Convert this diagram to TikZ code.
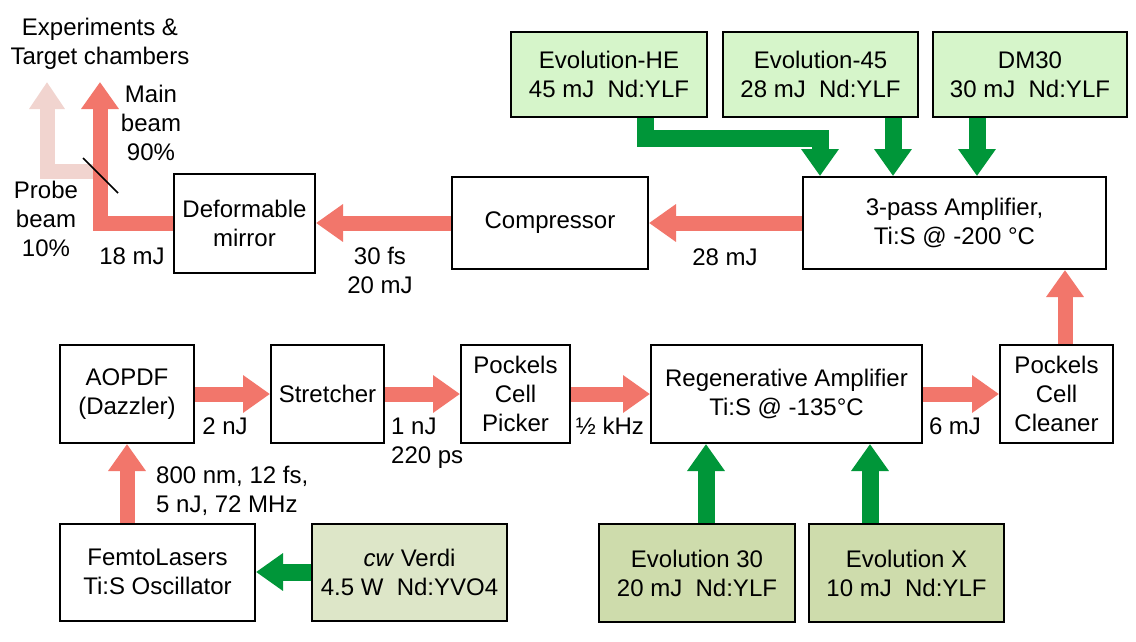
\documentclass[tikz,border=0pt]{standalone}
\usepackage{fontspec}
\setmainfont{Liberation Sans}
\usetikzlibrary{arrows.meta}
\definecolor{beamred}{RGB}{242,118,107}
\definecolor{probepink}{RGB}{241,212,207}
\definecolor{pumpgreen}{RGB}{0,150,57}
\definecolor{topgreen}{RGB}{214,245,202}
\definecolor{botgreen}{RGB}{206,220,172}
\definecolor{verdigreen}{RGB}{221,230,200}
\newcommand{\lblfont}{\fontsize{24pt}{29pt}\selectfont}
\begin{document}
\begin{tikzpicture}[x=1pt,y=-1pt,
  box/.style={draw=black, line width=2pt, fill=white, align=center, inner sep=0pt, font=\lblfont},
  lbl/.style={align=center, inner sep=0pt, font=\lblfont},
  rarr/.style={draw=beamred, line width=15pt, line join=miter, -{Triangle[length=27pt,width=36pt]}},
  parr/.style={draw=probepink, line width=15pt, line join=miter, -{Triangle[length=27pt,width=34pt]}},
  garr/.style={draw=pumpgreen, line width=17pt, line join=miter, -{Triangle[length=27pt,width=36pt]}}
]
\fill[white] (0,0) rectangle (1136,641);
\useasboundingbox (0,0) rectangle (1136,641);

% top pump lasers
\node[box, fill=topgreen, minimum width=196pt, minimum height=85pt] (evoHE) at (609,74.5) {Evolution-HE\\45 mJ~~Nd:YLF};
\node[box, fill=topgreen, minimum width=195pt, minimum height=85pt] (evo45) at (820.5,74.5) {Evolution-45\\28 mJ~~Nd:YLF};
\node[box, fill=topgreen, minimum width=194pt, minimum height=85pt] (dm30) at (1030,74.5) {DM30\\30 mJ~~Nd:YLF};

% top row
\node[box, minimum width=303pt, minimum height=92pt] (amp3) at (954.5,223) {3-pass Amplifier,\\Ti:S @ -200 °C};
\node[box, minimum width=196pt, minimum height=92pt] (comp) at (550,223) {Compressor};
\node[box, minimum width=141pt, minimum height=99pt] (deform) at (244.5,223) {Deformable\\mirror};

% middle row
\node[box, minimum width=134pt, minimum height=98pt] (aopdf) at (127,394) {AOPDF\\(Dazzler)};
\node[box, minimum width=113pt, minimum height=98pt] (stretch) at (327.5,394) {Stretcher};
\node[box, minimum width=109pt, minimum height=98pt] (picker) at (515.5,394) {Pockels\\Cell\\Picker};
\node[box, minimum width=271pt, minimum height=98pt] (regen) at (786.5,394) {Regenerative Amplifier\\Ti:S @ -135°C};
\node[box, minimum width=113pt, minimum height=98pt] (cleaner) at (1056.5,394) {Pockels\\Cell\\Cleaner};

% bottom row
\node[box, minimum width=195pt, minimum height=97pt] (femto) at (157.5,572) {FemtoLasers\\Ti:S Oscillator};
\node[box, fill=verdigreen, minimum width=195pt, minimum height=97pt] (verdi) at (409.5,572) {\textit{cw} Verdi\\4.5 W~~Nd:YVO4};
\node[box, fill=botgreen, minimum width=196pt, minimum height=98pt] (evo30) at (697,573) {Evolution 30\\20 mJ~~Nd:YLF};
\node[box, fill=botgreen, minimum width=195pt, minimum height=98pt] (evox) at (906.5,573) {Evolution X\\10 mJ~~Nd:YLF};

% output beams
\coordinate (mainTip) at (100,82);
\coordinate (probeTip) at (47,82);
\coordinate (split) at (100,171);
\coordinate (bsA) at (83,158);
\coordinate (bsB) at (118,193);
\draw[parr] (split) -| (probeTip);
\draw[rarr] (deform.west) -| (mainTip);
\draw[line width=1.5pt] (bsA) -- (bsB);

% red beam path
\draw[rarr] (femto.north -| aopdf.south) -- (aopdf.south);
\draw[rarr] (aopdf.east) -- (stretch.west);
\draw[rarr] (stretch.east) -- (picker.west);
\draw[rarr] (picker.east) -- (regen.west);
\draw[rarr] (regen.east) -- (cleaner.west);
\draw[rarr] (cleaner.north -| 1065,0) -- (amp3.south -| 1065,0);
\draw[rarr] (amp3.west) -- (comp.east);
\draw[rarr] (comp.west) -- (deform.east);

% green pump paths
\draw[garr] ([xshift=36pt]evoHE.south) -- ++(0,20) -| (amp3.north -| 820,0);
\draw[garr] (evo45.south -| 893,0) -- (amp3.north -| 893,0);
\draw[garr] (dm30.south -| 977,0) -- (amp3.north -| 977,0);
\draw[garr] (verdi.west) -- (femto.east);
\draw[garr] (evo30.north -| 706,0) -- (regen.south -| 706,0);
\draw[garr] (evox.north -| 870,0) -- (regen.south -| 870,0);

% labels
\node[lbl] (lexp) at (100,44) {Experiments \&\\Target chambers};
\node[lbl] (lmain) at (151,123) {Main\\beam\\90\%};
\node[lbl] (lprobe) at (46,219) {Probe\\beam\\10\%};
\node[lbl] (l18) at (132,256) {18 mJ};
\node[lbl] (l30) at (380,270) {30 fs\\20 mJ};
\node[lbl] (l28) at (725,257) {28 mJ};
\node[lbl] (l2nJ) at (225,426) {2 nJ};
\node[lbl, align=left, anchor=west] (l1nJ) at (391,443) {1 nJ\\220 ps};
\node[lbl] (lkhz) at (610,426) {½ kHz};
\node[lbl] (l6mJ) at (955,426) {6 mJ};
\node[lbl, align=left, anchor=west] (losc) at (156,491) {800 nm, 12 fs,\\5 nJ, 72 MHz};
\end{tikzpicture}
\end{document}
